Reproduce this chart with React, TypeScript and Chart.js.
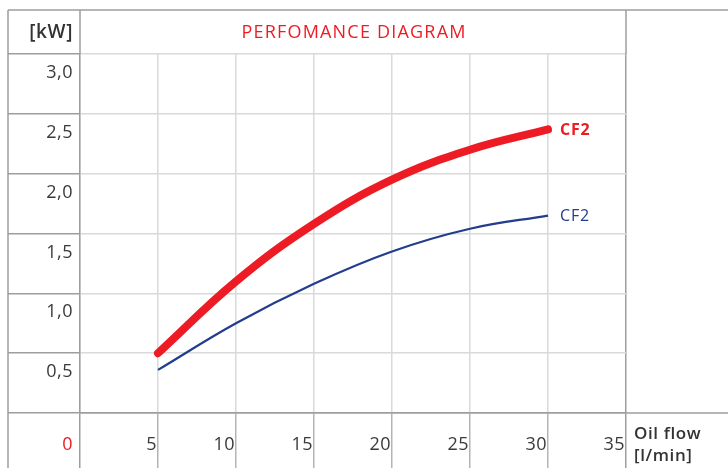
import React, { useEffect, useRef } from "react";
import { Chart, registerables } from "chart.js";

Chart.register(...registerables);

const flowValues = [5, 10, 15, 20, 25, 30];
const redSeries = [0.5, 1.1, 1.58, 1.95, 2.2, 2.37];
const blueSeries = [0.36, 0.75, 1.08, 1.35, 1.54, 1.65];
const yTickValues = [0.5, 1.0, 1.5, 2.0, 2.5, 3.0];
const yTickLabels = ["0,5", "1,0", "1,5", "2,0", "2,5", "3,0"];
const xTickValues = [5, 10, 15, 20, 25, 30, 35];
const xTickLabels = ["5", "10", "15", "20", "25", "30", "35"];
const seriesNames = ["CF2", "CF2"];
const titleText = "PERFOMANCE DIAGRAM";
const yUnit = "[kW]";
const xUnit = ["Oil flow", "[l/min]"];

const RED = "#ed1c24";
const BLUE = "#223c8e";
const DARK = "#9e9e9e";
const LIGHT = "#dadada";
const MID = "#b4b4b4";
const TEXT = "#333333";
const FONT = "'Open Sans', sans-serif";

const framePlugin = {
  id: "frame",
  afterDraw(chart: any) {
    const ctx = chart.ctx;
    const xs = chart.scales.x;
    const ys = chart.scales.y;
    const area = chart.chartArea;
    const W = chart.width;
    const H = chart.height;
    const frameLeft = 8;
    const frameTop = 10;
    const x0 = xs.getPixelForValue(0);
    const x35 = xs.getPixelForValue(35);
    const y0 = ys.getPixelForValue(0);
    ctx.save();
    ctx.strokeStyle = DARK;
    ctx.lineWidth = 1.5;
    ctx.beginPath();
    ctx.moveTo(frameLeft, frameTop);
    ctx.lineTo(W, frameTop);
    ctx.moveTo(frameLeft, frameTop);
    ctx.lineTo(frameLeft, H);
    ctx.moveTo(x0, frameTop);
    ctx.lineTo(x0, area.top);
    ctx.moveTo(x35, frameTop);
    ctx.lineTo(x35, area.top);
    ctx.moveTo(x35, y0);
    ctx.lineTo(W, y0);
    ctx.stroke();

    const setSpacing = (s: string) => {
      try {
        ctx.letterSpacing = s;
      } catch (e) {}
    };

    // header texts
    ctx.textBaseline = "middle";
    const headerY = (frameTop + area.top) / 2 + 1;
    ctx.fillStyle = TEXT;
    ctx.font = `600 19px ${FONT}`;
    setSpacing("0.6px");
    ctx.textAlign = "right";
    ctx.fillText(yUnit, x0 - 7, headerY);
    ctx.fillStyle = RED;
    ctx.font = `400 18px ${FONT}`;
    setSpacing("1.2px");
    ctx.textAlign = "center";
    ctx.fillText(titleText, (x0 + x35) / 2 + 1, headerY);

    // y tick labels
    ctx.fillStyle = "#3a3a3a";
    ctx.font = `400 18px ${FONT}`;
    setSpacing("0.5px");
    ctx.textAlign = "right";
    yTickValues.forEach((v, i) => {
      ctx.fillText(yTickLabels[i], x0 - 7, ys.getPixelForValue(v) + 19);
    });
    const labelY = y0 + 32;
    ctx.fillStyle = RED;
    ctx.fillText("0", x0 - 7, labelY);
    ctx.fillStyle = "#3a3a3a";
    xTickValues.forEach((v, i) => {
      ctx.fillText(xTickLabels[i], xs.getPixelForValue(v) - 1, labelY);
    });

    ctx.textAlign = "left";
    ctx.fillStyle = TEXT;
    ctx.font = `600 17px ${FONT}`;
    setSpacing("0.6px");
    ctx.fillText(xUnit[0], x35 + 8, y0 + 21);
    ctx.fillText(xUnit[1], x35 + 8, y0 + 43);

    // series end labels
    const last = flowValues.length - 1;
    const ex = xs.getPixelForValue(flowValues[last]) + 12;
    ctx.font = `700 16px ${FONT}`;
    setSpacing("0.8px");
    ctx.fillStyle = RED;
    ctx.fillText(seriesNames[0], ex, ys.getPixelForValue(redSeries[last]) + 1);
    ctx.font = `400 16px ${FONT}`;
    ctx.fillStyle = BLUE;
    ctx.fillText(seriesNames[1], ex, ys.getPixelForValue(blueSeries[last]) + 1);
    setSpacing("0px");
    ctx.restore();
  },
};

export default function App() {
  const ref = useRef<HTMLCanvasElement | null>(null);
  useEffect(() => {
    if (!ref.current) return;
    const chart = new Chart(ref.current, {
      type: "line",
      data: {
        datasets: [
          {
            data: flowValues.map((x, i) => ({ x, y: redSeries[i] })),
            borderColor: RED,
            borderWidth: 8,
            borderCapStyle: "round",
            pointRadius: 0,
            tension: 0.4,
          },
          {
            data: flowValues.map((x, i) => ({ x, y: blueSeries[i] })),
            borderColor: BLUE,
            borderWidth: 2.2,
            pointRadius: 0,
            tension: 0.4,
          },
        ],
      },
      options: {
        responsive: false,
        animation: false,
        events: [],
        layout: { padding: { top: 54, right: 102, left: 0, bottom: 0 } },
        plugins: { legend: { display: false }, tooltip: { enabled: false }, title: { display: false } },
        scales: {
          x: {
            type: "linear",
            min: 0,
            max: 35,
            ticks: { display: false, stepSize: 5 },
            grid: {
              color: (c: any) => (c.tick && c.tick.value === 35 ? DARK : LIGHT),
              tickColor: (c: any) => (c.tick && (c.tick.value === 35 || c.tick.value === 0) ? DARK : MID),
              lineWidth: 1.5,
              drawTicks: true,
              tickLength: 60,
            },
            border: { display: true, color: DARK, width: 1.5 },
            afterFit: (s: any) => {
              s.height = 55;
            },
          },
          y: {
            min: 0,
            max: 3,
            ticks: { display: false, stepSize: 0.5 },
            grid: {
              color: (c: any) => (c.tick && c.tick.value === 0 ? DARK : LIGHT),
              tickColor: DARK,
              lineWidth: 1.5,
              drawTicks: true,
              tickLength: 72,
            },
            border: { display: true, color: DARK, width: 1.5 },
            afterFit: (s: any) => {
              s.width = 80;
            },
          },
        },
      },
      plugins: [framePlugin],
    } as any);
    return () => chart.destroy();
  }, []);
  return (
    <div style={{ position: "fixed", left: 0, top: 0, width: 728, height: 468, background: "#fff" }}>
      <canvas ref={ref} width={728} height={468} style={{ display: "block" }} />
    </div>
  );
}
